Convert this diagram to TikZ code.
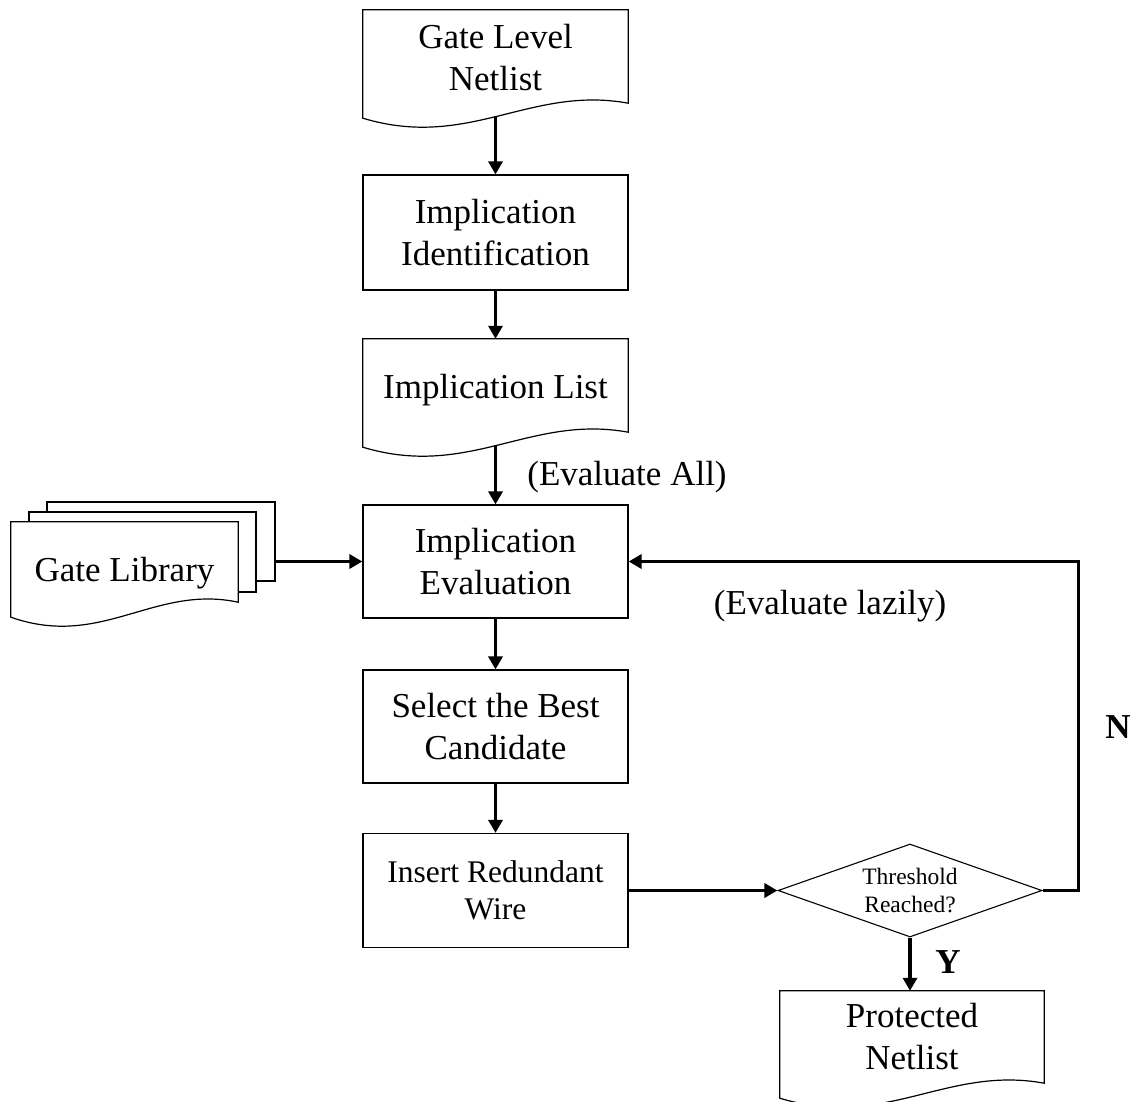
\documentclass[tikz,border=0pt]{standalone}
\usepackage{fontspec}
\setmainfont{Liberation Serif}
\usetikzlibrary{arrows.meta,shapes.geometric,calc}
\newcommand{\mainf}{\fontsize{35}{42}\selectfont}
\newcommand{\smallf}{\fontsize{31.5}{37}\selectfont}
\newcommand{\tinyf}{\fontsize{23.5}{28}\selectfont}
% document outline on an (invisible) node: #1 name, #2 offset of the left bottom corner below the node's south
\newcommand{\docwave}[2]{%
  \draw[docline] (#1.north west) -- (#1.north east) -- ($(#1.south east)+(0,#2-15)$)
    .. controls ($(#1.south west)!0.63!(#1.south east)+(0,#2-33)$) and ($(#1.south west)!0.40!(#1.south east)+(0,#2+32)$) .. ($(#1.south west)+(0,#2)$) -- cycle;}
\begin{document}
\begin{tikzpicture}[x=1pt,y=-1pt,
  box/.style={draw, line width=1.2pt, fill=white, minimum width=265pt, inner sep=0pt, align=center, font=\mainf},
  doc/.style={minimum width=265pt, inner sep=0pt, align=center, font=\mainf},
  docline/.style={line width=1.2pt, fill=white},
  page/.style={draw, line width=1.2pt, fill=white, inner sep=0pt},
  arr/.style={line width=3.8pt, -{Triangle[length=13pt,width=14pt]}},
  lbl/.style={font=\mainf, inner sep=0pt},
  dec/.style={shape=diamond, draw, line width=1.1pt, minimum width=264pt, minimum height=93pt, aspect=2.84, inner sep=0pt, align=center, font=\tinyf}
]
\useasboundingbox (0,0) rectangle (1132,1102);

% Gate Level Netlist
\node[doc, minimum height=96pt] (gln) at (495.5,58) {};
\docwave{gln}{12}
\node[doc] (glnt) at (gln.center) {Gate Level\\Netlist};

\node[box, minimum height=115pt] (iid) at (495.5,232.5) {Implication\\Identification};

% Implication List
\node[doc, minimum height=101.6pt] (il) at (495.5,389.8) {};
\docwave{il}{6.4}
\node[doc] (ilt) at (il.center) {Implication List};

\node[box, minimum height=113pt] (ie) at (495.5,561.5) {Implication\\Evaluation};
\node[box, minimum height=113pt] (sbc) at (495.5,726.5) {Select the Best\\Candidate};
\node[box, minimum height=114pt, font=\smallf] (irw) at (495.5,890.5) {Insert Redundant\\Wire};

\node[dec] (dia) at (910,890.5) {Threshold\\Reached?};

% Protected Netlist
\node[doc, minimum width=264pt, minimum height=92pt] (pn) at (912,1037) {};
\docwave{pn}{15}
\node[doc] (pnt) at (pn.center) {Protected\\Netlist};

% Gate Library (stack of pages)
\node[page, minimum width=228pt, minimum height=79pt] (glib3) at (161,541.5) {};
\node[page, minimum width=227pt, minimum height=80pt] (glib2) at (142.5,552) {};
\node[doc, minimum width=227pt, minimum height=103pt] (glib) at (124.5,573.5) {};
\docwave{glib}{-8}
\node[doc] (glibt) at (glib.center) {Gate Library};

% connectors
\draw[arr] ($(gln.south)+(0,10)$) -- (iid.north);
\draw[arr] (iid.south) -- (il.north);
\draw[arr] ($(il.south)+(0,4.4)$) -- (ie.north);
\draw[arr] (ie.south) -- (sbc.north);
\draw[arr] (sbc.south) -- (irw.north);
\draw[arr] (irw.east) -- (dia.west);
\draw[arr] (dia.south) -- (dia.south |- pn.north);
\draw[arr] (glib3.east |- ie.west) -- (ie.west);
\draw[arr] (dia.east) -- ++(36,0) |- (ie.east);

% labels
\node[lbl] (lall) at (627,477) {(Evaluate All)};
\node[lbl] (llazy) at (830,606) {(Evaluate lazily)};
\node[lbl, font=\mainf\bfseries] (ln) at (1118,727) {N};
\node[lbl, font=\mainf\bfseries] (ly) at (948,962) {Y};
\end{tikzpicture}
\end{document}
